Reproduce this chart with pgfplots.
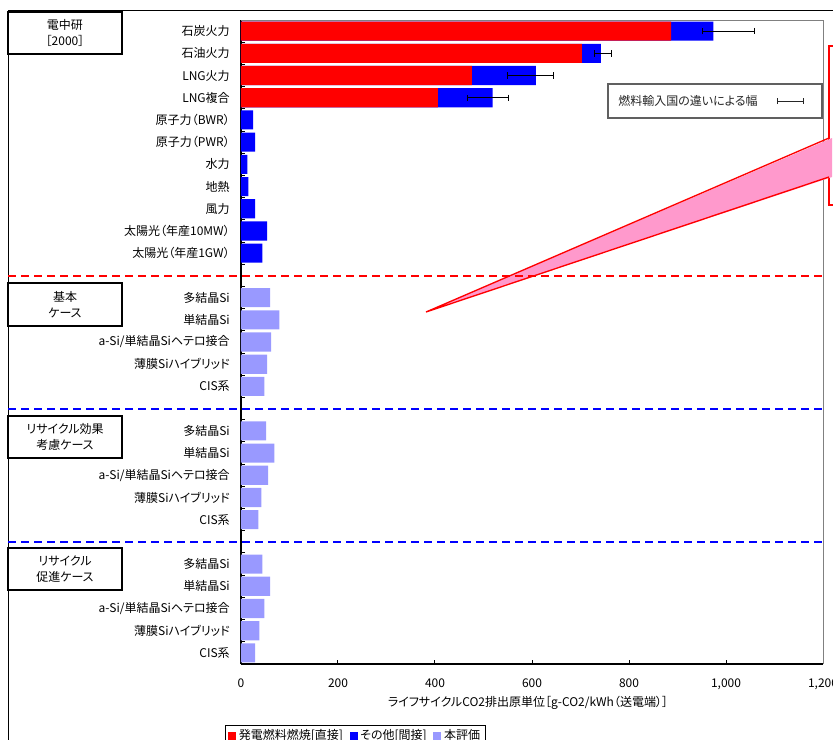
\documentclass[border=0pt]{standalone}
\usepackage{pgfplots}
\pgfplotsset{compat=1.18}
\usetikzlibrary{arrows.meta}
\usepackage{fontspec}
\setmainfont{Noto Sans CJK JP}[RawFeature=+palt]
\definecolor{lav}{HTML}{9999FF}
\definecolor{pinkc}{HTML}{FF99CC}
\definecolor{boxgray}{HTML}{606060}
\begin{document}
\begin{tikzpicture}[font=\fontsize{9pt}{11pt}\selectfont]
\path[use as bounding box] (0,0) rectangle (624.75pt,-555pt);
\begin{axis}[
  at={(180.75pt,-498pt)}, anchor=south west,
  scale only axis, width=436.5pt, height=483pt,
  xmin=0, xmax=1200, ymin=-0.5, ymax=28.5, y dir=reverse,
  axis x line*=bottom, axis y line*=left,
  axis line style={black, line width=1pt},
  xtick={0,200,400,600,800,1000,1200},
  ytick={-0.5,0.5,...,28.5},
  yticklabels={石炭火力,石油火力,LNG火力,LNG複合,原子力（BWR）,原子力（PWR）,水力,地熱,風力,太陽光（年産10MW）,太陽光（年産1GW）,{},
    多結晶Si,単結晶Si,a-Si/単結晶Siヘテロ接合,薄膜Siハイブリッド,CIS系,{},
    多結晶Si,単結晶Si,a-Si/単結晶Siヘテロ接合,薄膜Siハイブリッド,CIS系,{},
    多結晶Si,単結晶Si,a-Si/単結晶Siヘテロ接合,薄膜Siハイブリッド,CIS系,{}},
  tick align=inside, major tick length=3pt,
  tick style={black, line width=0.75pt},
  scaled x ticks=false,
  /pgf/number format/assume math mode=true,
  xticklabel style={/pgf/number format/1000 sep={,}, inner sep=0pt, yshift=-11pt},
  yticklabel style={inner sep=0pt, xshift=-8.25pt, yshift=-8.33pt},
  xlabel={ライフサイクルCO2排出原単位［g-CO2/kWh（送電端）］},
  xlabel style={at={(axis description cs:0.5,0)}, anchor=center, xshift=-3pt, yshift=-29.25pt, inner sep=0pt},
  legend style={at={(axis description cs:-0.0275,-0.0947)}, anchor=north west,
    draw=black, line width=0.75pt, fill=white, inner xsep=2pt, inner ysep=1pt,
    font=\fontsize{9pt}{11pt}\selectfont,
    /tikz/every even column/.append style={column sep=3pt}},
  legend columns=3, legend cell align=left,
]
% total (direct + other) drawn first in blue
\addplot[xbar, bar width=0.86, bar shift=0pt, fill=blue, draw=none, forget plot] coordinates {
  (974,0) (742,1) (608,2) (519,3) (25,4) (29,5) (13,6) (15,7) (29,8) (54,9) (44,10)};
% direct (fuel combustion) drawn over it in red
\addplot[xbar, bar width=0.86, bar shift=0pt, fill=red, draw=none, forget plot] coordinates {
  (887,0) (703,1) (476,2) (406,3)};
% this evaluation
\addplot[xbar, bar width=0.86, bar shift=0pt, fill=lav, draw=none, forget plot] coordinates {
  (60,12) (79,13) (62,14) (54,15) (48,16)
  (52,18) (69,19) (56,20) (42,21) (36,22)
  (44,24) (60,25) (48,26) (38,27) (29,28)};
% range due to differences in fuel-exporting country (centre of range +- half width)
\addplot[draw=none, mark=none, forget plot,
  error bars/.cd, x dir=both, x explicit, error mark=|,
  error bar style={draw=black, solid, line width=0.75pt},
  error mark options={draw=black, solid, line width=0.75pt, mark size=2.4pt}] coordinates {
  (1005.5,0) +- (53.5,0)
  (745.5,1) +- (17.5,0)
  (596.5,2) +- (47.5,0)
  (509.5,3) +- (41.5,0)};
\addlegendimage{legend image code/.code={\fill[red] (0pt,-2.6pt) rectangle (5.25pt,2.6pt);}}
\addlegendentry{発電燃料燃焼[直接]}
\addlegendimage{legend image code/.code={\fill[blue] (0pt,-2.6pt) rectangle (5.25pt,2.6pt);}}
\addlegendentry{その他[間接]}
\addlegendimage{legend image code/.code={\fill[lav] (0pt,-2.6pt) rectangle (5.25pt,2.6pt);}}
\addlegendentry{本評価}
\end{axis}
\begin{scope}[x=0.75pt, y=-0.75pt]
  % outer frame
  \draw[black, line width=0.75pt] (8,760) -- (8,10) -- (850,10);
  % plot area border (top/right)
  \draw[gray, line width=0.75pt] (241,20) -- (823,20) -- (823,664);
  % group boxes
  \draw[black, fill=white, line width=0.9pt] (8,12) rectangle (122,54);
  \node[align=center, font=\fontsize{9pt}{12pt}\selectfont] at (65,33) {電中研\\［2000］};
  \draw[black, fill=white, line width=0.9pt] (8,283) rectangle (122,326);
  \node[align=center, font=\fontsize{9pt}{12pt}\selectfont] at (65,304.5) {基本\\ケース};
  \draw[black, fill=white, line width=0.9pt] (8,416) rectangle (122,458);
  \node[align=center, font=\fontsize{9pt}{12pt}\selectfont] at (65,437) {リサイクル効果\\考慮ケース};
  \draw[black, fill=white, line width=0.9pt] (8,548) rectangle (122,590);
  \node[align=center, font=\fontsize{9pt}{12pt}\selectfont] at (65,569) {リサイクル\\促進ケース};
  % inset legend box
  \draw[boxgray, fill=white, line width=0.9pt] (608,84) rectangle (822,118);
  \node[anchor=west, inner sep=0pt, text=black!85] at (618,101) {燃料輸入国の違いによる幅};
  \draw[black!85, line width=0.75pt, {Bar[width=4.5pt]}-{Bar[width=4.5pt]}] (777,101) -- (804,101);
  % callout
  \draw[red, fill=white, line width=1pt] (829,46) rectangle (900,205);
  \fill[pinkc] (832,138) -- (426,312) -- (832,177) -- cycle;
  \draw[red, line width=1pt, line join=miter] (829,138) -- (426,312) -- (829,177);
  % separators
  \draw[red, line width=1.5pt, dash pattern=on 6pt off 3.75pt] (8,276) -- (823,276);
  \draw[blue, line width=1.5pt, dash pattern=on 6pt off 3.75pt] (8,408.5) -- (823,408.5);
  \draw[blue, line width=1.5pt, dash pattern=on 6pt off 3.75pt] (8,541.5) -- (823,541.5);
\end{scope}
\end{tikzpicture}
\end{document}
